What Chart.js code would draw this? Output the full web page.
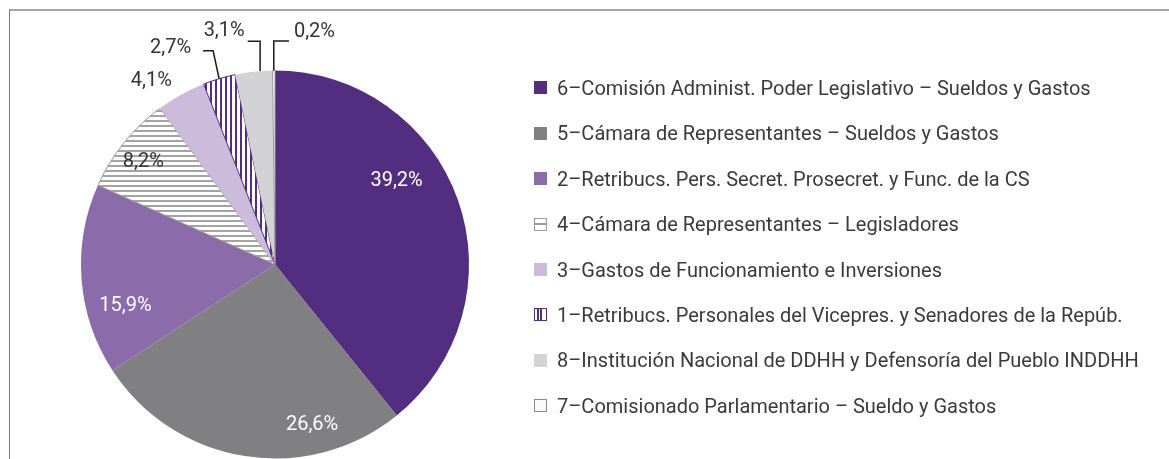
<!DOCTYPE html>
<html>
<head>
<meta charset="utf-8">
<script src="https://cdn.jsdelivr.net/npm/chart.js@4"></script>
<style>
html,body{margin:0;padding:0;background:#fff;}
#wrap{position:relative;width:1169px;height:459px;overflow:hidden;}
#topline{position:absolute;left:9px;top:9px;width:1160px;height:2px;background:#a6a6a6;}
#leftline{position:absolute;left:9px;top:9px;width:1px;height:450px;background:#808080;}
canvas{position:absolute;left:0;top:0;}
#legend{position:absolute;left:534px;top:65px;font-family:Roboto,sans-serif;font-size:20px;color:#3a3a3a;}
.row{height:45.46px;display:flex;align-items:center;white-space:nowrap;}
.box{width:13px;height:13px;box-sizing:border-box;margin-right:10px;flex:none;}
</style>
</head>
<body>
<div id="wrap">
<div id="topline"></div>
<div id="leftline"></div>
<canvas id="grafico" width="1169" height="459"></canvas>
<div id="legend"></div>
</div>
<script>
// datos
const categorias = [
  '6–Comisión Administ. Poder Legislativo – Sueldos y Gastos',
  '5–Cámara de Representantes – Sueldos y Gastos',
  '2–Retribucs. Pers. Secret. Prosecret. y Func. de la CS',
  '4–Cámara de Representantes – Legisladores',
  '3–Gastos de Funcionamiento e Inversiones',
  '1–Retribucs. Personales del Vicepres. y Senadores de la Repúb.',
  '8–Institución Nacional de DDHH y Defensoría del Pueblo INDDHH',
  '7–Comisionado Parlamentario – Sueldo y Gastos'
];
const porcentajes = [39.2, 26.6, 15.9, 8.2, 4.1, 2.7, 3.1, 0.2];

const morado = '#522d80';

function rayasH(){
  const c = document.createElement('canvas');
  c.width = 8; c.height = 5;
  const g = c.getContext('2d');
  g.fillStyle = '#fff'; g.fillRect(0,0,8,5);
  g.fillStyle = '#a3a3a3'; g.fillRect(0,0,8,2);
  return g.createPattern(c,'repeat');
}
function rayasV(){
  const c = document.createElement('canvas');
  c.width = 5; c.height = 8;
  const g = c.getContext('2d');
  g.fillStyle = '#fff'; g.fillRect(0,0,5,8);
  g.fillStyle = morado; g.fillRect(0,0,2,8);
  return g.createPattern(c,'repeat');
}

const colores = [morado, '#808083', '#8b6baa', rayasH(), '#cdbbdc', rayasV(), '#d3d3d5', '#ffffff'];
const bordes = [morado, '#808083', '#8b6baa', '#999999', '#cdbbdc', morado, '#d3d3d5', '#999999'];
const anchoBorde = [0, 0, 0, 1, 0, 1, 0, 1];

// ubicacion de etiquetas: giro respecto al medio (grados), radio relativo
const etiq = [
  {da:-15, r:0.76, color:'#fff'},
  {da:-22, r:0.85, color:'#fff'},
  {da:-11, r:0.80, color:'#fff'},
  {da:-1,  r:0.86, color:'#333'},
  {da:-5,  r:1.14, color:'#333'},
  {da:-9,  r:1.24, color:'#333', guia:{sa:0, ex:-6, ey:3, gap:12, lado:'izq'}},
  {da:-6,  r:1.23, color:'#333', guia:{sa:1.9, ex:0, ey:10, gap:3, lado:'izq'}},
  {da:10,  r:1.215, color:'#333', guia:{sa:0, ex:0, ey:9, gap:5, lado:'der'}}
];

const etiquetas = {
  id:'etiquetas',
  afterDatasetsDraw(chart){
    const ctx = chart.ctx;
    const arcos = chart.getDatasetMeta(0).data;
    ctx.save();
    ctx.font = '20px Roboto';
    ctx.textBaseline = 'middle';
    ctx.textAlign = 'center';
    arcos.forEach((arco,i)=>{
      const p = arco.getProps(['x','y','startAngle','endAngle','outerRadius'], true);
      const medio = (p.startAngle + p.endAngle)/2;
      const e = etiq[i];
      const a = medio + e.da*Math.PI/180;
      const lx = p.x + Math.cos(a)*p.outerRadius*e.r;
      const ly = p.y + Math.sin(a)*p.outerRadius*e.r;
      const txt = porcentajes[i].toFixed(1).replace('.', ',') + '%';
      ctx.fillStyle = e.color;
      ctx.fillText(txt, lx, ly);
      if(e.guia){
        const g = e.guia;
        const w = ctx.measureText(txt).width;
        const b = medio + g.sa*Math.PI/180;
        const sx = p.x + Math.cos(b)*p.outerRadius;
        const sy = p.y + Math.sin(b)*p.outerRadius;
        const ex = sx + g.ex;
        const ey = ly + g.ey;
        const fx = g.lado === 'der' ? lx - w/2 - g.gap : lx + w/2 + g.gap;
        ctx.strokeStyle = '#1a1a1a';
        ctx.lineWidth = 1.5;
        ctx.beginPath();
        ctx.moveTo(sx, sy);
        ctx.lineTo(ex, ey);
        ctx.lineTo(fx, ey);
        ctx.stroke();
      }
    });
    ctx.restore();
  }
};

new Chart(document.getElementById('grafico'), {
  type:'pie',
  data:{
    labels:categorias,
    datasets:[{
      data:porcentajes,
      backgroundColor:colores,
      borderColor:bordes,
      borderWidth:anchoBorde
    }]
  },
  options:{
    responsive:false,
    animation:false,
    layout:{padding:{left:80, right:699, top:70, bottom:0}},
    plugins:{legend:{display:false}, tooltip:{enabled:false}}
  },
  plugins:[etiquetas]
});

// leyenda
const estilosCaja = [
  'background:'+morado,
  'background:#808083',
  'background:#8b6baa',
  'border:1.5px solid #9a9a9a;background:linear-gradient(#fff 0,#fff 4.5px,#9a9a9a 4.5px,#9a9a9a 6px,#fff 6px)',
  'background:#cdbbdc',
  'border:1.5px solid '+morado+';background:linear-gradient(90deg,#fff 0,#fff 2.5px,'+morado+' 2.5px,'+morado+' 4px,#fff 4px,#fff 5.5px,'+morado+' 5.5px,'+morado+' 7px,#fff 7px)',
  'background:#d3d3d5',
  'border:1.5px solid #8a8a8a;background:#fafafa'
];
const ley = document.getElementById('legend');
categorias.forEach((c,i)=>{
  const row = document.createElement('div');
  row.className = 'row';
  const box = document.createElement('span');
  box.className = 'box';
  box.style.cssText = estilosCaja[i];
  const t = document.createElement('span');
  t.textContent = c;
  row.appendChild(box);
  row.appendChild(t);
  ley.appendChild(row);
});
</script>
</body>
</html>
